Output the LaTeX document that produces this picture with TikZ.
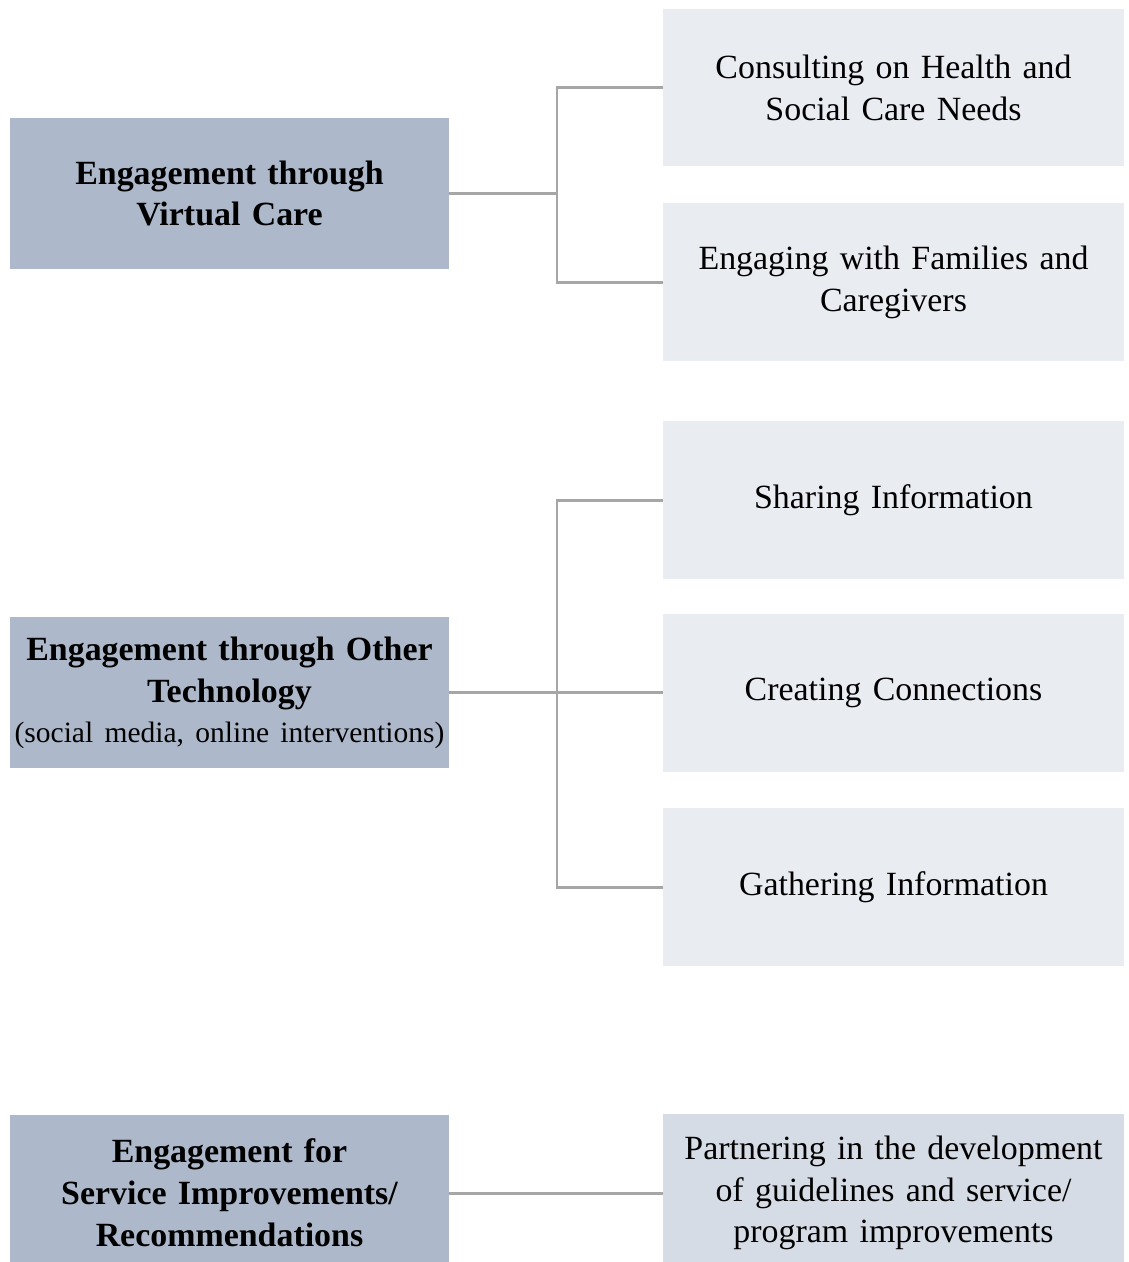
\documentclass[tikz,border=0pt]{standalone}
\usepackage{fontspec}
\setmainfont{Liberation Serif}
\usetikzlibrary{positioning}
\definecolor{leftblue}{HTML}{ADB9CA}
\definecolor{rightgrey}{HTML}{E9ECF1}
\definecolor{rightblue}{HTML}{D6DCE5}
\definecolor{linkgrey}{HTML}{A6A6A6}
\tikzset{
  lbox/.style={rectangle, fill=leftblue, inner sep=0pt, minimum width=8.78cm,
    text width=8.78cm, align=center, font=\fontsize{19.3}{23.8}\selectfont\bfseries},
  rbox/.style={rectangle, fill=rightgrey, inner sep=0pt, minimum width=9.22cm,
    minimum height=3.15cm, text width=9.1cm, align=center, font=\fontsize{19.3}{23.8}\selectfont},
  link/.style={draw=linkgrey, line width=1.7pt}
}
\begin{document}
\begin{tikzpicture}[x=0.02cm, y=-0.02cm]
  \useasboundingbox (0,0) rectangle (1129,1262);

  % left column
  \node[lbox, minimum height=3.02cm] (virtual) at (229.5,193.5) {Engagement through\\Virtual Care};
  \node[lbox, minimum height=3.02cm] (other) at (229.5,692.5) {Engagement through Other\\Technology\\[-1pt]{\mdseries\fontsize{16.8}{20}\selectfont(social media, online interventions)}};
  \node[lbox, minimum height=3.12cm] (service) at (229.5,1193) {Engagement for\\Service Improvements/\\Recommendations};

  % right column
  \node[rbox] (consult) at (893.5,87.5) {Consulting on Health and\\Social Care Needs};
  \node[rbox] (families) at (893.5,282) {Engaging with Families and\\Caregivers};
  \node[rbox] (sharing) at (893.5,500) {Sharing Information};
  \node[rbox] (connect) at (893.5,693) {Creating Connections};
  \node[rbox] (gather) at (893.5,887) {Gathering Information};
  \node[rbox, fill=rightblue] (partner) at (893.5,1193) {Partnering in the development\\of guidelines and service/\\program improvements};

  % connectors
  \coordinate (vj) at (557,193.5);
  \coordinate (oj) at (557,692.5);
  \draw[link] (virtual.east) -- (vj);
  \draw[link] (consult.west) -| (vj) |- (families.west);
  \draw[link] (other.east) -- (oj -| connect.west);
  \draw[link] (sharing.west) -| (oj) |- (gather.west);
  \draw[link] (service.east) -- (partner.west);
\end{tikzpicture}
\end{document}
